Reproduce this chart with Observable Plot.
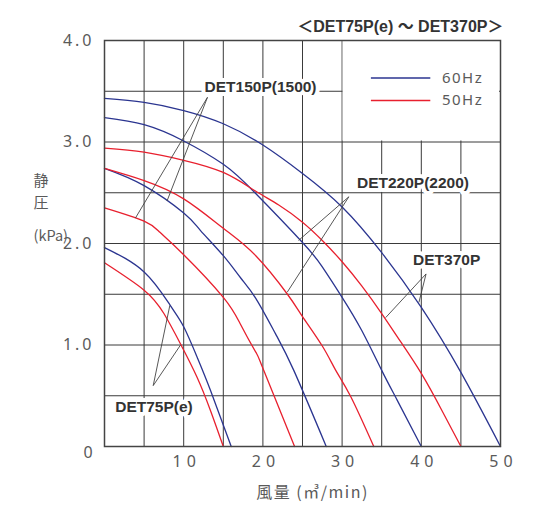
<!DOCTYPE html>
<html><head><meta charset="utf-8">
<script src="https://cdn.jsdelivr.net/npm/d3@7"></script>
<script src="https://cdn.jsdelivr.net/npm/@observablehq/plot@0.6"></script>
<style>
html,body{margin:0;padding:0;background:#fff}
</style>
</head><body><div id="chart"></div>
<script>
// ---- data (flow m3/min, static pressure kPa) ----
const det75_60  = [[0,1.96],[5,1.72],[8.3,1.39],[10,1.18],[11.7,0.88],[13.4,0.55],[16,0]];
const det75_50  = [[0,1.81],[5,1.54],[7.5,1.31],[9.6,1.01],[11.7,0.68],[13.4,0.35],[15,0]];
const det150_60 = [[0,2.74],[5,2.57],[10,2.30],[12.1,2.13],[15,1.88],[17.2,1.66],[19.1,1.46],[21.6,1.11],[23.9,0.75],[28,0]];
const det150_50 = [[0,2.35],[5,2.22],[7,2.11],[10,1.89],[15,1.47],[17.2,1.20],[19.1,0.93],[20,0.77],[24,0]];
const det220_60 = [[0,3.24],[5,3.17],[10,3.01],[15,2.78],[19,2.50],[25,2.01],[27.5,1.77],[30,1.47],[32.5,1.14],[35,0.75],[37,0.45],[40,0]];
const det220_50 = [[0,2.74],[5,2.62],[10,2.44],[15,2.15],[19.1,1.88],[23.1,1.50],[25,1.28],[27.5,0.99],[29.2,0.75],[31.1,0.49],[34,0]];
const det370_60 = [[0,3.43],[5,3.39],[10,3.31],[15,3.18],[20,2.97],[25,2.69],[30,2.36],[35,1.91],[40,1.37],[45,0.73],[50,0]];
const det370_50 = [[0,2.94],[5,2.90],[10,2.82],[15,2.70],[19,2.52],[22,2.38],[25,2.21],[27.5,2.03],[30,1.82],[32.5,1.58],[35,1.31],[37.5,1.02],[40,0.72],[42.5,0.37],[45,0]];

const seriesNames = ["60Hz","50Hz"];
const seriesColors = ["#2b3590","#e8202e"];
const xGrid = [5,10,15,20,25,30,35,40,45];
const yGrid = [0.5,1,1.5,2,2.5,3,3.5];
const xTicks = [10,20,30,40,50];
const yTicks = [1,2,3,4];
const titleText = "＜DET75P(e) ～ DET370P＞";
const xTitle = "風量 (㎥/min)";
const yTitle = [{t:"静", y:2.615, size:15}, {t:"圧", y:2.395, size:15}, {t:"(kPa)", y:2.07, size:14.5}];

const curves = [
  {model:"DET75P(e)", hz:"60Hz", pts:det75_60},
  {model:"DET75P(e)", hz:"50Hz", pts:det75_50},
  {model:"DET150P(1500)", hz:"60Hz", pts:det150_60},
  {model:"DET150P(1500)", hz:"50Hz", pts:det150_50},
  {model:"DET220P(2200)", hz:"60Hz", pts:det220_60},
  {model:"DET220P(2200)", hz:"50Hz", pts:det220_50},
  {model:"DET370P", hz:"60Hz", pts:det370_60},
  {model:"DET370P", hz:"50Hz", pts:det370_50}
];
const rows = curves.flatMap(c => c.pts.map(([q,p]) => ({model:c.model, hz:c.hz, q, p})));

// annotation labels and leader lines (data units)
const labels = [
  {t:"DET150P(1500)", x:19.7, y:3.54},
  {t:"DET220P(2200)", x:38.95, y:2.60},
  {t:"DET370P", x:43.2, y:1.84},
  {t:"DET75P(e)", x:6.25, y:0.385}
];
const leaders = [
  {x1:13.0, y1:3.44, x2:3.9,  y2:2.25},
  {x1:13.0, y1:3.44, x2:7.9,  y2:2.42},
  {x1:30.85,y1:2.46, x2:24.5, y2:2.03},
  {x1:30.85,y1:2.46, x2:23.07,y2:1.52},
  {x1:40.6, y1:1.70, x2:35.5, y2:1.27},
  {x1:40.6, y1:1.70, x2:39.7, y2:1.42},
  {x1:6.15, y1:0.60, x2:8.25, y2:1.39},
  {x1:6.15, y1:0.60, x2:9.6,  y2:1.00}
];
const legendBox = [{x1:30, x2:50, y1:3, y2:4}];
const legend = [{hz:"60Hz", y:3.63}, {hz:"50Hz", y:3.41}];
const legendX = {x1:33.7, x2:41.2, xt:42.6};

const font = "'Noto Sans', 'Noto Sans CJK JP', sans-serif";
const boldFont = "'Liberation Sans', Arial, 'Noto Sans CJK JP', sans-serif";
const grey = "#5a5a5a";

const chart = Plot.plot({
  width: 533, height: 506,
  marginLeft: 104, marginRight: 33, marginTop: 40, marginBottom: 60,
  x: {domain:[0,50], axis:null},
  y: {domain:[0,4], axis:null},
  color: {domain: seriesNames, range: seriesColors},
  style: {fontFamily: font, background: "#fff"},
  marks: [
    Plot.ruleX(xGrid, {x: d => d, stroke:"#3a3a3a", strokeWidth:1}),
    Plot.ruleY(yGrid, {y: d => d, stroke:"#3a3a3a", strokeWidth:1}),
    Plot.rect(legendBox, {x1:"x1", x2:"x2", y1:"y1", y2:"y2", fill:"white", inset:1}),
    Plot.text(labels, {x:"x", y:"y", text:"t", fontFamily: boldFont, fontWeight:"bold", fontSize:15.5, fill:"#333", stroke:"white", strokeWidth:8}),
    Plot.line(rows, {x:"q", y:"p", z: d => d.model + d.hz, stroke:"hz", strokeWidth:1.3, curve:"natural"}),
    Plot.link(leaders, {x1:"x1", y1:"y1", x2:"x2", y2:"y2", stroke:"#444", strokeWidth:0.9}),
    Plot.ruleY(legend, {y:"y", x1: legendX.x1, x2: legendX.x2, stroke:"hz", strokeWidth:1.5}),
    Plot.text(legend, {y:"y", x: () => legendX.xt, text:"hz", textAnchor:"start", fontSize:15, fill:grey}),
    Plot.frame({stroke:"#444", strokeWidth:1.5}),
    Plot.text(yTicks, {y: d => d, frameAnchor:"left", text: d => d.toFixed(1), textAnchor:"end", dx:-10, fontSize:16, fill:grey}),
    Plot.text(["0"], {frameAnchor:"bottom-left", text: d => d, dx:-21, dy:11, fontSize:16, fill:grey}),
    Plot.text(xTicks, {x: d => d, frameAnchor:"bottom", text: d => String(d), dy:20, dx:3, fontSize:16, fill:grey}),
    Plot.text([xTitle], {frameAnchor:"bottom", text: d => d, dy:51, dx:10, fontSize:16, fill:grey, fontFamily:"'Noto Sans CJK JP', sans-serif"}),
    Plot.text(yTitle, {frameAnchor:"left", y:"y", text:"t", dx:-71, fontSize: d => d.size, fill:grey, fontFamily:"'Noto Sans CJK JP', sans-serif"}),
    Plot.text([titleText], {frameAnchor:"top-right", text: d => d, dy:-20, dx:3, textAnchor:"end", fontFamily: boldFont, fontWeight:"bold", fontSize:16, fill:"#333"})
  ]
});
document.getElementById("chart").appendChild(chart);
// letter spacing tweaks, chosen by the text content
d3.select(chart).selectAll("text").each(function() {
  const t = this.textContent;
  const el = d3.select(this);
  if (/^\d\.\d$/.test(t)) el.style("letter-spacing", "3px");
  else if (/^\d0$/.test(t)) el.style("letter-spacing", "5px");
  else if (/Hz$/.test(t)) el.style("letter-spacing", "1.5px");
  else if (t === xTitle) el.style("letter-spacing", "1.5px");
});
</script>
</body></html>
